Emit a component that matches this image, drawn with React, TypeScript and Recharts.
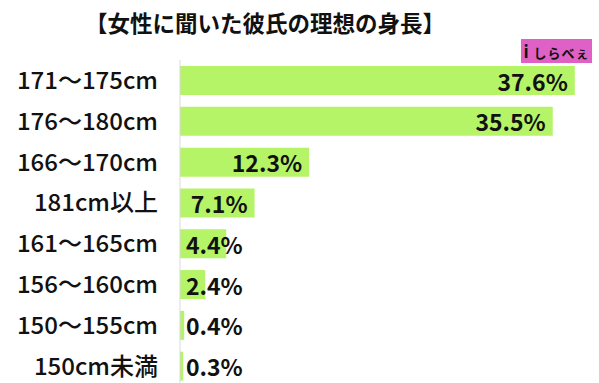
import React from 'react';
import { BarChart, Bar, XAxis, YAxis, LabelList } from 'recharts';

const categories = [
  '171～175cm',
  '176～180cm',
  '166～170cm',
  '181cm以上',
  '161～165cm',
  '156～160cm',
  '150～155cm',
  '150cm未満',
];

const percentages = [37.6, 35.5, 12.3, 7.1, 4.4, 2.4, 0.4, 0.3];

const title = '【女性に聞いた彼氏の理想の身長】';

const data = categories.map((name, i) => ({ name, value: percentages[i] }));

const FONT = '"Noto Sans CJK JP", "Noto Sans", sans-serif';
const BAR_COLOR = '#b5f466';

interface ValueLabelProps {
  x?: number;
  y?: number;
  width?: number;
  height?: number;
  value?: number;
}

// inside end when it fits, otherwise start just right of the axis
const ValueLabel: React.FC<ValueLabelProps> = ({ x = 0, y = 0, width = 0, height = 0, value }) => {
  const text = `${Number(value).toFixed(1)}%`;
  const fits = width > 70;
  return (
    <text
      x={fits ? x + width - 7 : x + 6}
      y={y + height / 2}
      textAnchor={fits ? 'end' : 'start'}
      dominantBaseline="central"
      fontFamily={FONT}
      fontWeight={700}
      fontSize={23}
      fill="#111"
    >
      {text}
    </text>
  );
};

const App: React.FC = () => {
  return (
    <div
      style={{
        position: 'absolute',
        left: 0,
        top: 0,
        width: 599,
        height: 383,
        overflow: 'hidden',
        background: '#fff',
        fontFamily: FONT,
      }}
    >
      <div
        style={{
          position: 'absolute',
          left: 0,
          top: 6,
          width: 530,
          textAlign: 'center',
          fontSize: 22.5,
          fontWeight: 700,
          lineHeight: '32px',
          color: '#111',
        }}
      >
        {title}
      </div>
      <div
        style={{
          position: 'absolute',
          left: 521,
          top: 39,
          width: 71,
          height: 24,
          background: '#e061c6',
          color: '#111',
          fontSize: 13,
          fontWeight: 700,
          lineHeight: '24px',
          textAlign: 'center',
          letterSpacing: 1,
        }}
      >
        <span style={{ fontSize: 17 }}>i</span> しらべぇ
      </div>
      <BarChart
        width={599}
        height={390}
        data={data}
        layout="vertical"
        margin={{ top: 60, right: 20, bottom: 3.5, left: 0 }}
        barSize={29}
      >
        <XAxis type="number" hide domain={[0, 38]} />
        <YAxis
          type="category"
          dataKey="name"
          width={180}
          tickLine={false}
          tickSize={0}
          tickMargin={22}
          axisLine={{ stroke: '#d9d9d9' }}
          tick={{ fill: '#111', fontSize: 24, fontFamily: FONT, fontWeight: 500 }}
          interval={0}
        />
        <Bar dataKey="value" fill={BAR_COLOR} isAnimationActive={false}>
          <LabelList dataKey="value" content={<ValueLabel />} />
        </Bar>
      </BarChart>
    </div>
  );
};

export default App;
